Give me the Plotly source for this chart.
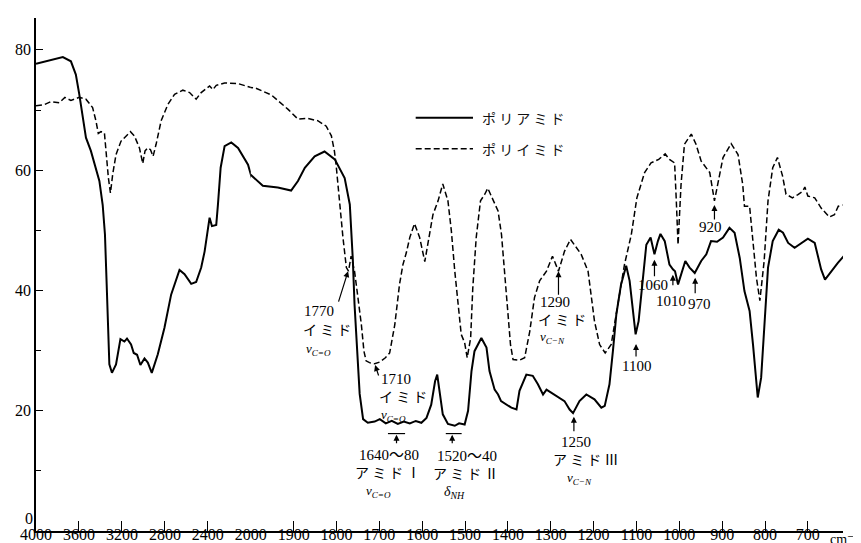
import plotly.graph_objects as go

# ---------------- data (wavenumber cm-1, transmittance %) ----------------
polyamide_wn = [
    4000, 3893, 3750, 3675, 3629, 3597, 3566, 3535, 3489, 3442,
    3410, 3379, 3358, 3342, 3333, 3317, 3293, 3255, 3214, 3177,
    3153, 3115, 3090, 3059, 3028, 2990, 2959, 2922, 2866, 2804,
    2742, 2664, 2617, 2555, 2509, 2462, 2430, 2384, 2362, 2322,
    2306, 2281, 2244, 2182, 2119, 2026, 1983, 1972, 1937, 1906,
    1890, 1874, 1851, 1828, 1804, 1781, 1769, 1764, 1762, 1758,
    1752, 1746, 1738, 1727, 1711, 1699, 1685, 1671, 1657, 1643,
    1629, 1615, 1602, 1590, 1579, 1570, 1565, 1559, 1552, 1540,
    1524, 1514, 1501, 1493, 1485, 1478, 1462, 1450, 1443, 1431,
    1423, 1416, 1404, 1392, 1380, 1373, 1357, 1342, 1330, 1318,
    1310, 1299, 1283, 1268, 1256, 1248, 1233, 1217, 1198, 1182,
    1174, 1163, 1155, 1147, 1136, 1124, 1116, 1108, 1102, 1095,
    1085, 1077, 1067, 1058, 1050, 1044, 1034, 1023, 1015, 1010,
    1003, 996, 986, 976, 964, 949, 937, 926, 912, 898,
    883, 871, 859, 848, 836, 828, 820, 817, 809, 801,
    793, 782, 768, 758, 746, 731, 716, 700, 684, 677,
    669, 660, 646, 630, 616,
]
polyamide_t = [
    77.7, 78.2, 78.8, 78.1, 75.9, 72.6, 68.7, 65.4, 63.2, 60.4,
    58.2, 54.2, 49.3, 41.0, 35.0, 27.7, 26.3, 27.7, 31.9, 31.5,
    32.0, 31.0, 29.6, 29.3, 27.6, 28.7, 28.0, 26.3, 29.4, 33.8,
    39.3, 43.4, 42.7, 41.1, 41.4, 43.8, 46.5, 52.1, 50.7, 50.9,
    54.3, 60.4, 64.0, 64.6, 63.7, 60.9, 58.2, 57.4, 57.1, 56.6,
    58.2, 60.4, 62.3, 63.1, 61.8, 58.7, 54.3, 48.8, 45.2, 37.7,
    29.4, 22.8, 18.6, 18.0, 18.2, 18.6, 17.9, 18.3, 17.8, 18.2,
    17.9, 18.3, 18.0, 18.8, 21.0, 24.9, 26.0, 23.3, 19.4, 17.8,
    17.5, 17.9, 17.7, 20.0, 26.6, 29.9, 32.1, 30.5, 26.6, 23.5,
    22.7, 21.6, 21.0, 20.5, 20.2, 23.3, 26.0, 25.8, 24.4, 22.7,
    23.5, 23.0, 22.4, 21.6, 20.2, 19.6, 21.6, 22.7, 21.9, 20.5,
    20.8, 24.4, 29.9, 36.0, 41.0, 44.1, 41.6, 36.6, 32.7, 34.9,
    41.6, 47.6, 48.8, 46.0, 48.2, 49.4, 48.2, 44.3, 43.5, 43.2,
    41.0, 42.7, 44.9, 43.8, 42.9, 44.9, 46.0, 48.2, 48.1, 48.8,
    50.4, 49.6, 45.4, 39.9, 36.6, 31.0, 24.4, 22.2, 25.5, 35.5,
    43.8, 48.2, 50.1, 49.6, 47.9, 47.1, 47.9, 48.6, 47.9, 46.0,
    43.5, 41.8, 43.2, 44.6, 45.7,
]

polyimide_wn = [
    4000, 3923, 3862, 3783, 3731, 3675, 3597, 3535, 3473, 3442,
    3420, 3395, 3363, 3349, 3326, 3307, 3286, 3255, 3209, 3121,
    3084, 3037, 3006, 2985, 2959, 2934, 2910, 2882, 2835, 2773,
    2710, 2633, 2570, 2509, 2462, 2384, 2353, 2322, 2244, 2119,
    1991, 1952, 1921, 1913, 1890, 1867, 1843, 1824, 1812, 1805,
    1801, 1793, 1785, 1777, 1772, 1766, 1758, 1750, 1742, 1736,
    1731, 1723, 1711, 1699, 1686, 1676, 1664, 1653, 1645, 1637,
    1629, 1618, 1606, 1594, 1584, 1575, 1563, 1552, 1540, 1532,
    1524, 1517, 1509, 1501, 1495, 1487, 1482, 1474, 1464, 1454,
    1447, 1435, 1423, 1415, 1408, 1401, 1394, 1388, 1373, 1361,
    1349, 1338, 1326, 1310, 1296, 1282, 1268, 1254, 1241, 1229,
    1213, 1205, 1198, 1186, 1173, 1159, 1143, 1128, 1112, 1099,
    1081, 1066, 1048, 1033, 1023, 1011, 1007, 1003, 996, 988,
    972, 961, 949, 929, 918, 908, 898, 879, 863, 852,
    848, 836, 828, 820, 812, 802, 793, 782, 771, 759,
    751, 736, 724, 712, 707, 700, 684, 669, 650, 638,
    629, 619,
]
polyimide_t = [
    70.7, 70.9, 71.4, 71.2, 72.1, 71.6, 72.1, 71.8, 70.4, 68.2,
    66.1, 66.4, 66.2, 63.2, 58.7, 56.2, 59.3, 62.6, 64.8, 66.4,
    65.7, 63.7, 61.1, 63.2, 63.7, 63.4, 62.3, 64.3, 68.2, 70.9,
    72.6, 73.3, 72.9, 71.8, 72.9, 74.0, 73.4, 74.1, 74.5, 74.4,
    73.7, 72.5, 70.7, 70.1, 68.5, 68.6, 68.2, 67.3, 65.7, 63.2,
    60.9, 54.3, 48.8, 43.8, 43.2, 45.7, 43.2, 38.8, 34.3, 29.9,
    28.3, 28.0, 27.8, 28.1, 28.8, 29.6, 34.3, 41.0, 44.3, 46.3,
    48.8, 51.1, 48.8, 44.8, 48.8, 52.6, 54.9, 57.7, 54.9, 49.9,
    43.2, 37.7, 32.7, 31.3, 28.8, 32.1, 40.4, 48.8, 54.9, 56.0,
    57.0, 55.1, 53.2, 49.3, 43.2, 36.6, 31.0, 28.5, 28.4, 28.8,
    33.2, 38.8, 41.6, 43.2, 45.7, 43.2, 46.5, 48.5, 47.1, 46.0,
    43.2, 38.8, 34.9, 31.0, 29.6, 31.0, 37.7, 44.3, 49.3, 55.4,
    59.6, 61.2, 61.8, 62.7, 61.8, 61.2, 54.9, 47.6, 57.6, 64.3,
    66.0, 64.3, 61.5, 59.6, 54.9, 58.2, 62.1, 64.4, 62.6, 57.6,
    54.0, 54.0, 47.6, 42.1, 38.3, 44.9, 54.9, 60.4, 62.1, 59.0,
    56.0, 55.4, 55.9, 56.5, 57.2, 55.7, 55.4, 53.7, 52.2, 52.6,
    54.0, 54.2,
]

series_names = ["ポリアミド", "ポリイミド"]
x_ticks_high = [4000, 3600, 3200, 2800, 2400, 2000]
x_ticks_low = [1900, 1800, 1700, 1600, 1500, 1400, 1300, 1200, 1100, 1000, 900, 800, 700]
y_ticks = [0, 20, 40, 60, 80]
y_minor_ticks = [10, 30, 50, 70]

# ---------------- figure ----------------
SERIF = "Liberation Serif, DejaVu Serif, Noto Sans CJK JP"
CJK = "Noto Sans CJK JP, Liberation Serif"
SPLIT = 0.2662

fig = go.Figure()
solid = dict(color="black", width=2)
dashed = dict(color="black", width=1.5, dash="6px,3px")
for xa in ("x", "x2"):
    fig.add_trace(go.Scatter(x=polyamide_wn, y=polyamide_t, mode="lines", line=solid,
                             name=series_names[0], xaxis=xa, yaxis="y", showlegend=False))
    fig.add_trace(go.Scatter(x=polyimide_wn, y=polyimide_t, mode="lines", line=dashed,
                             name=series_names[1], xaxis=xa, yaxis="y", showlegend=False))

axis_common = dict(showline=True, linecolor="black", linewidth=1.5, showgrid=False,
                   zeroline=False, ticks="inside", tickcolor="black", tickwidth=1.2)
xfont = dict(family=SERIF, size=16, color="black")

# the "0" label sits just above the corner in the reference, so it is drawn separately
y_ticktext = ["" if v == 0 else str(v) for v in y_ticks]

fig.update_layout(
    width=861, height=543,
    margin=dict(l=28, r=26, t=10, b=20, pad=0, autoexpand=False),
    paper_bgcolor="white", plot_bgcolor="white",
    xaxis=dict(domain=[0, SPLIT], range=[4000, 2000], tickvals=x_ticks_high,
               ticktext=[str(v) for v in x_ticks_high], anchor="y", ticklen=10,
               tickfont=xfont, ticklabelstandoff=-12, **axis_common),
    xaxis2=dict(domain=[SPLIT, 1], range=[2000, 618], tickvals=x_ticks_low,
                ticktext=[str(v) for v in x_ticks_low], anchor="y", ticklen=10,
                tickfont=xfont, ticklabelstandoff=-12, **axis_common),
    yaxis=dict(range=[0, 85.3], tickvals=y_ticks, ticktext=y_ticktext,
               anchor="x", ticklen=7, tickfont=dict(family=SERIF, size=16, color="black"),
               minor=dict(tickvals=y_minor_ticks, ticks="inside", ticklen=5,
                          tickcolor="black", tickwidth=1.2),
               **axis_common),
)

fig.add_annotation(xref="paper", yref="y", x=-0.003, y=y_ticks[0], xanchor="right",
                   yanchor="bottom", showarrow=False, text=str(y_ticks[0]), borderpad=0,
                   yshift=3, font=dict(family=SERIF, size=16, color="black"))

# legend drawn by hand (long line samples as in the reference)
fig.add_shape(type="line", xref="paper", yref="paper", x0=0.4705, x1=0.5415,
              y0=0.8057, y1=0.8057, line=solid)
fig.add_shape(type="line", xref="paper", yref="paper", x0=0.4705, x1=0.5415,
              y0=0.7452, y1=0.7452, line=dashed)
for name, yy in zip(series_names, [0.8057, 0.7452]):
    fig.add_annotation(xref="paper", yref="paper", x=0.5502, y=yy, xanchor="left",
                       yanchor="middle", showarrow=False, text=" ".join(name),
                       font=dict(family=CJK, size=14, color="#111"))

# axis unit, just right of the 700 label (paper coordinates so it is never hidden)
fig.add_annotation(xref="paper", yref="paper", x=1.021, y=-0.016, xanchor="right",
                   yanchor="middle", showarrow=False, text="cm⁻¹", borderpad=0,
                   font=dict(family=SERIF, size=14, color="black"))

# band labels (x2 / y data coordinates)
def label(x, y, text, size=15, family=SERIF):
    fig.add_annotation(xref="x2", yref="y", x=x, y=y, text=text, showarrow=False,
                       xanchor="center", yanchor="middle", borderpad=0,
                       font=dict(family=family, size=size, color="black"))

def arrow(x, y, ax, ay):
    fig.add_annotation(xref="x2", yref="y", x=x, y=y, ax=ax, ay=ay, text="",
                       showarrow=True, arrowhead=2, arrowsize=1, arrowwidth=1.2,
                       arrowcolor="black", standoff=0, startstandoff=0)

NU_CO = "<i>ν<sub>C=O</sub></i>"
NU_CN = "<i>ν<sub>C−N</sub></i>"

label(1841, 36.6, "1770"); label(1823, 33.6, "イ ミ ド", 14, CJK); label(1843, 30.2, NU_CO, 13)
arrow(1773, 43.2, -10, 32)

label(1662, 25.2, "1710"); label(1645, 22.4, "イ ミ ド", 14, CJK); label(1666, 19.2, NU_CO, 13)
arrow(1710, 27.6, 4, 12)

label(1678, 12.6, "1640～80"); label(1680, 9.8, "ア ミ ド Ⅰ", 14, CJK); label(1701, 6.6, NU_CO, 13)
fig.add_shape(type="line", xref="x2", yref="y", x0=1680, x1=1640, y0=16.2, y1=16.2,
              line=dict(color="black", width=1.2))
arrow(1660, 16.0, 0, 10)

label(1496, 12.4, "1520～40"); label(1498, 9.6, "ア ミ ド Ⅱ", 14, CJK); label(1524, 6.4, "<i>δ<sub>NH</sub></i>", 14)
fig.add_shape(type="line", xref="x2", yref="y", x0=1545, x1=1508, y0=16.2, y1=16.2,
              line=dict(color="black", width=1.2))
arrow(1530, 16.0, 0, 10)

label(1289, 38.1, "1290"); label(1274, 35.2, "イ ミ ド", 14, CJK); label(1295, 32.1, NU_CN, 13)
arrow(1282, 43.2, 0, 25)

label(1241, 14.8, "1250"); label(1218, 11.9, "ア ミ ド Ⅲ", 14, CJK); label(1234, 8.7, NU_CN, 13)
arrow(1246, 19.0, 0, 16)

label(1099, 27.4, "1100"); arrow(1101, 31.1, 0, 14)
label(1061, 40.9, "1060"); arrow(1058, 45.1, 0, 18)
label(1020, 38.3, "1010"); arrow(1015, 42.6, 0, 12)
label(954, 37.7, "970"); arrow(963, 42.1, 0, 17)
label(928, 50.5, "920"); arrow(918, 54.2, 0, 16)

fig.write_html("out.html")
